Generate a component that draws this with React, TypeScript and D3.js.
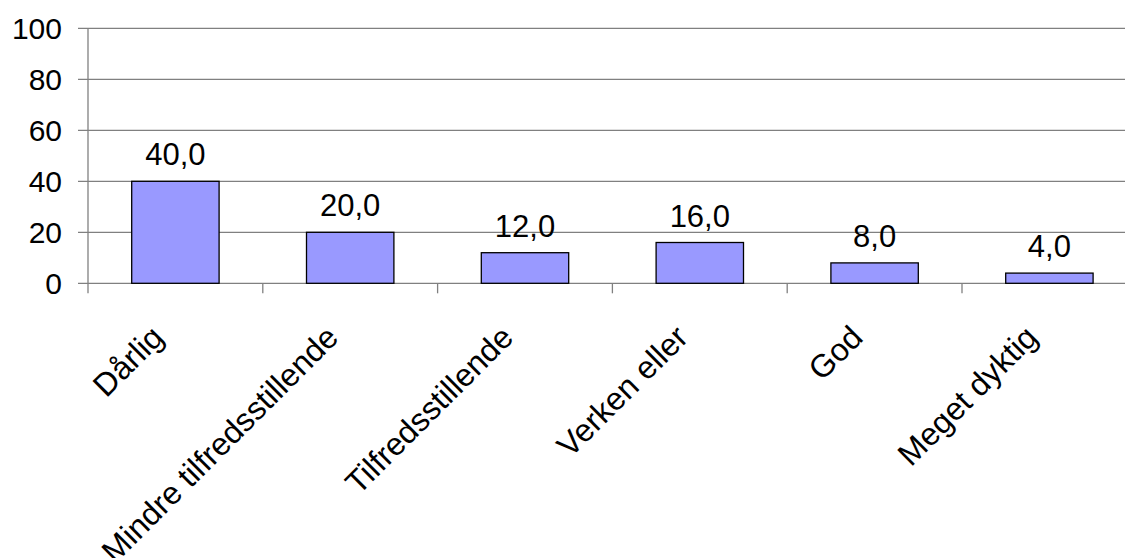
import React, { useEffect, useRef } from 'react';
import * as d3 from 'd3';

const categories = ['Dårlig', 'Mindre tilfredsstillende', 'Tilfredsstillende', 'Verken eller', 'God', 'Meget dyktig'];
const values = [40, 20, 12, 16, 8, 4];
const yTicks = [0, 20, 40, 60, 80, 100];

const W = 1125;
const H = 558;

export default function App() {
  const svgRef = useRef<SVGSVGElement>(null);

  useEffect(() => {
    if (!svgRef.current) return;
    const svg = d3.select(svgRef.current);
    svg.selectAll('*').remove();

    const left = 88;
    const step = 174.8;
    const right = left + step * categories.length; // plot runs past the window edge
    const top = 28.3;
    const bottom = 283.3;
    const font = 'Liberation Sans, Arial, sans-serif';

    const x = d3.scaleBand<string>().domain(categories).range([left, right]).paddingInner(0.5).paddingOuter(0.25);
    const y = d3.scaleLinear().domain([0, 100]).range([bottom, top]);

    // gridlines + y labels
    yTicks.forEach(t => {
      svg.append('line')
        .attr('x1', left - 10).attr('x2', right)
        .attr('y1', y(t)).attr('y2', y(t))
        .attr('stroke', '#808080').attr('stroke-width', 1.3);
      svg.append('text')
        .attr('x', 62).attr('y', y(t)).attr('dy', '0.36em')
        .attr('text-anchor', 'end')
        .attr('font-family', font).attr('font-size', 30)
        .attr('fill', '#000')
        .text(t);
    });

    // y axis
    svg.append('line')
      .attr('x1', left).attr('x2', left)
      .attr('y1', top).attr('y2', bottom + 10)
      .attr('stroke', '#808080').attr('stroke-width', 1.3);

    // x ticks between categories
    for (let i = 1; i <= categories.length; i++) {
      const tx = left + step * i;
      svg.append('line')
        .attr('x1', tx).attr('x2', tx)
        .attr('y1', bottom).attr('y2', bottom + 10)
        .attr('stroke', '#808080').attr('stroke-width', 1.3);
    }

    // bars
    categories.forEach((c, i) => {
      const cx = x(c)! + x.bandwidth() / 2;
      svg.append('rect')
        .attr('x', x(c)!).attr('y', y(values[i]))
        .attr('width', x.bandwidth()).attr('height', bottom - y(values[i]))
        .attr('fill', '#9999FF').attr('stroke', '#000').attr('stroke-width', 1.3);

      svg.append('text')
        .attr('x', cx)
        .attr('y', y(values[i]) - 16)
        .attr('text-anchor', 'middle')
        .attr('font-family', font).attr('font-size', 31)
        .attr('fill', '#000')
        .text(values[i].toFixed(1).replace('.', ','));

      svg.append('text')
        .attr('transform', `translate(${cx - 10},${bottom + 56}) rotate(-45)`)
        .attr('text-anchor', 'end')
        .attr('font-family', font).attr('font-size', 32)
        .attr('fill', '#000')
        .text(c);
    });
  }, []);

  return (
    <svg
      ref={svgRef}
      width={W}
      height={H}
      viewBox={`0 0 ${W} ${H}`}
      style={{ position: 'absolute', left: 0, top: 0, background: '#fff', display: 'block' }}
    />
  );
}
